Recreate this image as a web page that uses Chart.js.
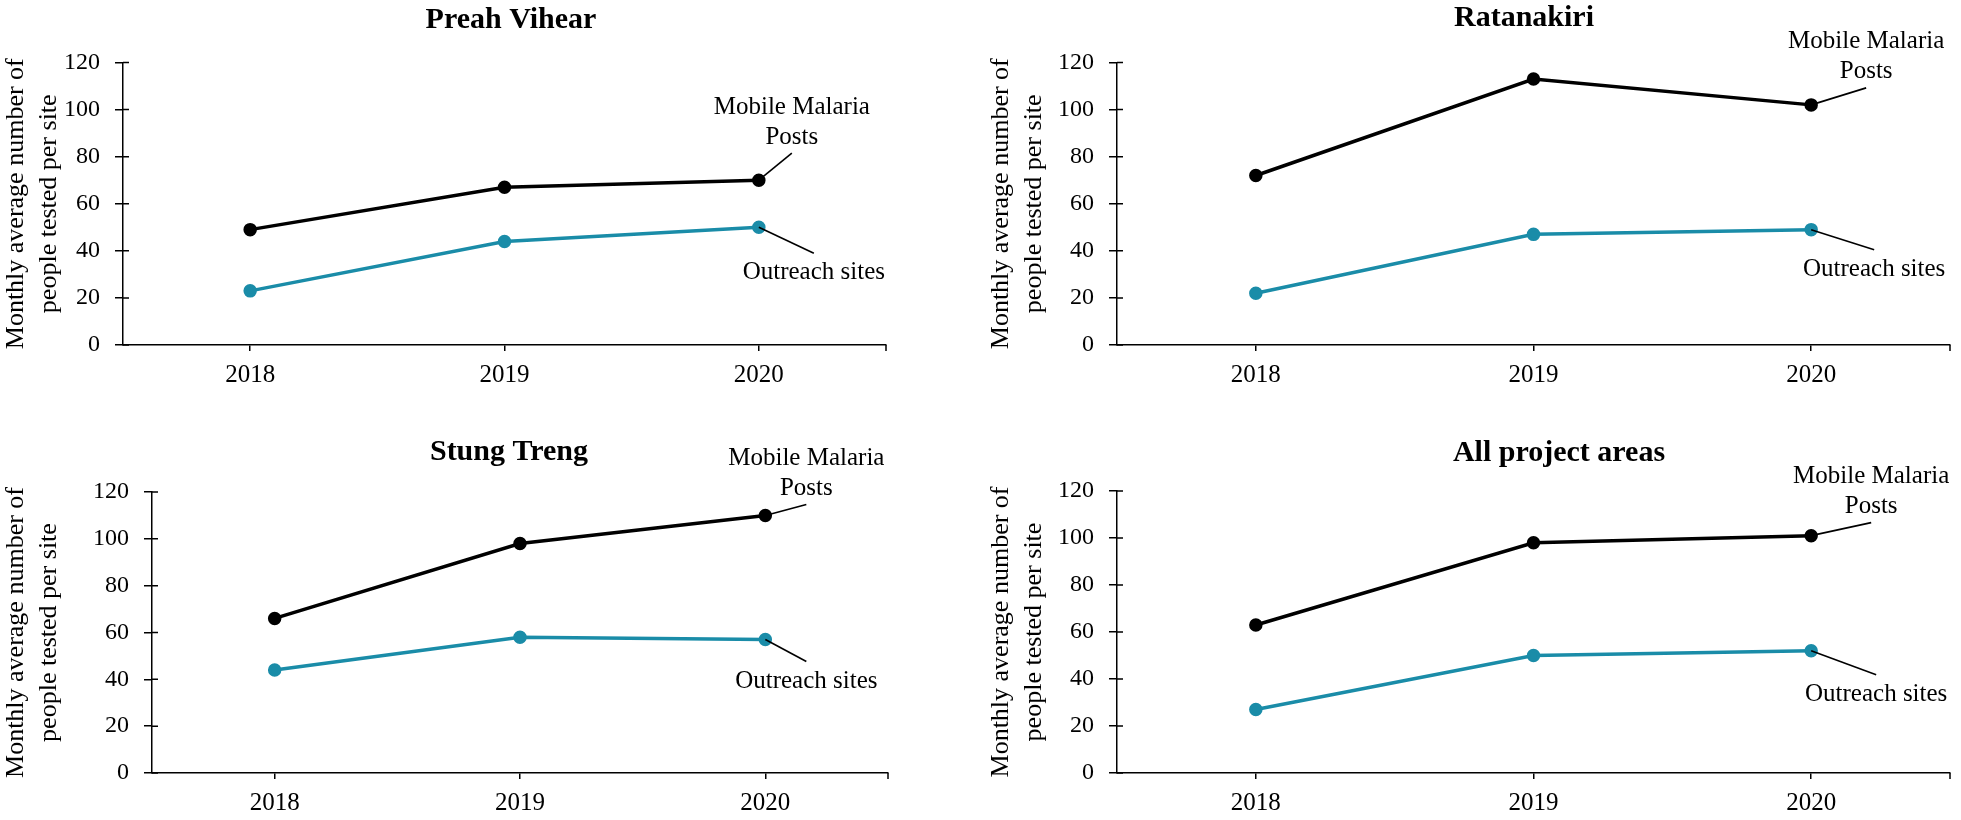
<!DOCTYPE html>
<html>
<head>
<meta charset="utf-8">
<script src="https://cdn.jsdelivr.net/npm/chart.js@4/dist/chart.umd.min.js"></script>
<style>
  html, body { margin: 0; padding: 0; background: #fff; overflow: hidden; width: 1961px; height: 820px; }
  .panel { position: absolute; }
</style>
</head>
<body>
<div class="panel" style="left:0px;top:0px;width:1022px;height:410px"><canvas id="chartA"></canvas></div>
<div class="panel" style="left:985px;top:0px;width:1078px;height:410px"><canvas id="chartB"></canvas></div>
<div class="panel" style="left:0px;top:410px;width:1018px;height:410px"><canvas id="chartC"></canvas></div>
<div class="panel" style="left:985px;top:410px;width:1148px;height:410px"><canvas id="chartD"></canvas></div>
<script>
// data
const years = ['2018', '2019', '2020'];
const yTickValues = [0, 20, 40, 60, 80, 100, 120];
const preahVihearMMP = [49, 67, 70];
const preahVihearOutreach = [23, 44, 50];
const ratanakiriMMP = [72, 113, 102];
const ratanakiriOutreach = [22, 47, 49];
const stungTrengMMP = [66, 98, 110];
const stungTrengOutreach = [44, 58, 57];
const allAreasMMP = [63, 98, 101];
const allAreasOutreach = [27, 50, 52];
const mmpLabel = ['Mobile Malaria', 'Posts'];
const outreachLabel = ['Outreach sites'];
const yTitle = ['Monthly average number of', 'people tested per site'];

const SERIF = '"Liberation Serif", "Times New Roman", serif';
const TEAL = '#1a8ca8';
Chart.defaults.font.family = SERIF;
Chart.defaults.color = '#000';

// panel title (placed by hand, Excel does not center it on the plot)
const panelTitlePlugin = {
    id: 'panelTitle',
    afterDraw(chart, args, opts) {
        const ctx = chart.ctx;
        ctx.save();
        ctx.fillStyle = '#000';
        ctx.font = 'bold 30px ' + SERIF;
        ctx.textAlign = 'center';
        ctx.textBaseline = 'middle';
        ctx.fillText(opts.text, opts.x, opts.y);
        ctx.restore();
    }
};

// leader lines + labels at the last point of each series
const calloutPlugin = {
    id: 'callouts',
    afterDatasetsDraw(chart, args, opts) {
        const ctx = chart.ctx;
        ctx.save();
        ctx.strokeStyle = '#000';
        ctx.lineWidth = 1.6;
        ctx.fillStyle = '#000';
        ctx.font = '25px ' + SERIF;
        ctx.textAlign = 'center';
        ctx.textBaseline = 'middle';
        (opts.items || []).forEach(function(it) {
            const meta = chart.getDatasetMeta(it.dataset);
            const pt = meta.data[meta.data.length - 1];
            const ex = pt.x + it.dx, ey = pt.y + it.dy;
            ctx.beginPath();
            ctx.moveTo(pt.x, pt.y);
            ctx.lineTo(ex, ey);
            ctx.stroke();
            it.lines.forEach(function(t, i) {
                ctx.fillText(t, ex, ey + it.ty + i * 30);
            });
        });
        ctx.restore();
    }
};

// crossing ticks on y axis, end tick on x axis
const axisTicksPlugin = {
    id: 'axisTicks',
    afterDraw(chart) {
        const {ctx, chartArea, scales} = chart;
        ctx.save();
        ctx.strokeStyle = '#000';
        ctx.lineWidth = 1.5;
        ctx.beginPath();
        scales.y.ticks.forEach(function(t, i) {
            const y = scales.y.getPixelForTick(i);
            ctx.moveTo(chartArea.left, y);
            ctx.lineTo(chartArea.left + 6, y);
        });
        ctx.moveTo(chartArea.right, chartArea.bottom);
        ctx.lineTo(chartArea.right, chartArea.bottom + 6);
        ctx.stroke();
        ctx.restore();
    }
};

function makePanel(id, cfg) {
    const ctx = document.getElementById(id).getContext('2d');
    return new Chart(ctx, {
        type: 'line',
        data: {
            labels: years,
            datasets: [{
                label: 'Mobile Malaria Posts',
                data: cfg.mmp,
                borderColor: '#000',
                backgroundColor: '#000',
                pointBackgroundColor: '#000',
                pointBorderColor: '#000',
                borderWidth: 3.5,
                pointRadius: 5,
                tension: 0
            }, {
                label: 'Outreach sites',
                data: cfg.outreach,
                borderColor: TEAL,
                backgroundColor: TEAL,
                pointBackgroundColor: TEAL,
                pointBorderColor: TEAL,
                borderWidth: 3.5,
                pointRadius: 5,
                tension: 0
            }]
        },
        options: {
            responsive: true,
            maintainAspectRatio: false,
            animation: false,
            layout: { padding: { left: 0, right: cfg.padRight, top: cfg.padTop, bottom: 0 } },
            plugins: {
                legend: { display: false },
                tooltip: { enabled: false },
                title: { display: false },
                panelTitle: { text: cfg.title, x: cfg.titleX, y: cfg.titleY },
                callouts: {
                    items: [
                        { dataset: 0, dx: cfg.mmpLeader[0], dy: cfg.mmpLeader[1], ty: -46, lines: mmpLabel },
                        { dataset: 1, dx: cfg.outLeader[0], dy: cfg.outLeader[1], ty: 19.5, lines: outreachLabel }
                    ]
                }
            },
            scales: {
                x: {
                    type: 'category',
                    offset: true,
                    grid: { drawOnChartArea: false, drawTicks: true, tickLength: 6, color: '#000', lineWidth: 1.5, offset: false },
                    border: { display: true, color: '#000', width: 1.5 },
                    ticks: { font: { size: 25, family: SERIF }, color: '#000', padding: 9, maxRotation: 0 },
                    afterFit: function(scale) { scale.height = cfg.xHeight; }
                },
                y: {
                    min: yTickValues[0],
                    max: yTickValues[yTickValues.length - 1],
                    afterBuildTicks: function(scale) {
                        scale.ticks = yTickValues.map(function(v) { return { value: v }; });
                    },
                    grid: { drawOnChartArea: false, drawTicks: true, tickLength: 8, color: '#000', lineWidth: 1.5 },
                    border: { display: true, color: '#000', width: 1.5 },
                    ticks: { font: { size: 24, family: SERIF }, color: '#000', padding: 15 },
                    title: {
                        display: true,
                        text: yTitle,
                        font: { size: 26, family: SERIF, lineHeight: 1.25 },
                        color: '#000',
                        padding: 0
                    },
                    afterFit: function(scale) { scale.width = cfg.yWidth; }
                }
            }
        },
        plugins: [calloutPlugin, axisTicksPlugin, panelTitlePlugin]
    });
}

makePanel('chartA', {
    title: 'Preah Vihear', mmp: preahVihearMMP, outreach: preahVihearOutreach,
    yWidth: 123, padRight: 136, padTop: 62.5, xHeight: 65, titleX: 511, titleY: 20,
    mmpLeader: [33, -27], outLeader: [55, 26]
});
makePanel('chartB', {
    title: 'Ratanakiri', mmp: ratanakiriMMP, outreach: ratanakiriOutreach,
    yWidth: 132, padRight: 113, padTop: 62.5, xHeight: 65, titleX: 539, titleY: 18,
    mmpLeader: [55, -17], outLeader: [63, 20]
});
makePanel('chartC', {
    title: 'Stung Treng', mmp: stungTrengMMP, outreach: stungTrengOutreach,
    yWidth: 152, padRight: 130, padTop: 82, xHeight: 47, titleX: 509, titleY: 42,
    mmpLeader: [41, -11], outLeader: [41, 22]
});
makePanel('chartD', {
    title: 'All project areas', mmp: allAreasMMP, outreach: allAreasOutreach,
    yWidth: 132, padRight: 183, padTop: 81, xHeight: 47, titleX: 574, titleY: 43,
    mmpLeader: [60, -13], outLeader: [65, 24]
});
</script>
</body>
</html>
